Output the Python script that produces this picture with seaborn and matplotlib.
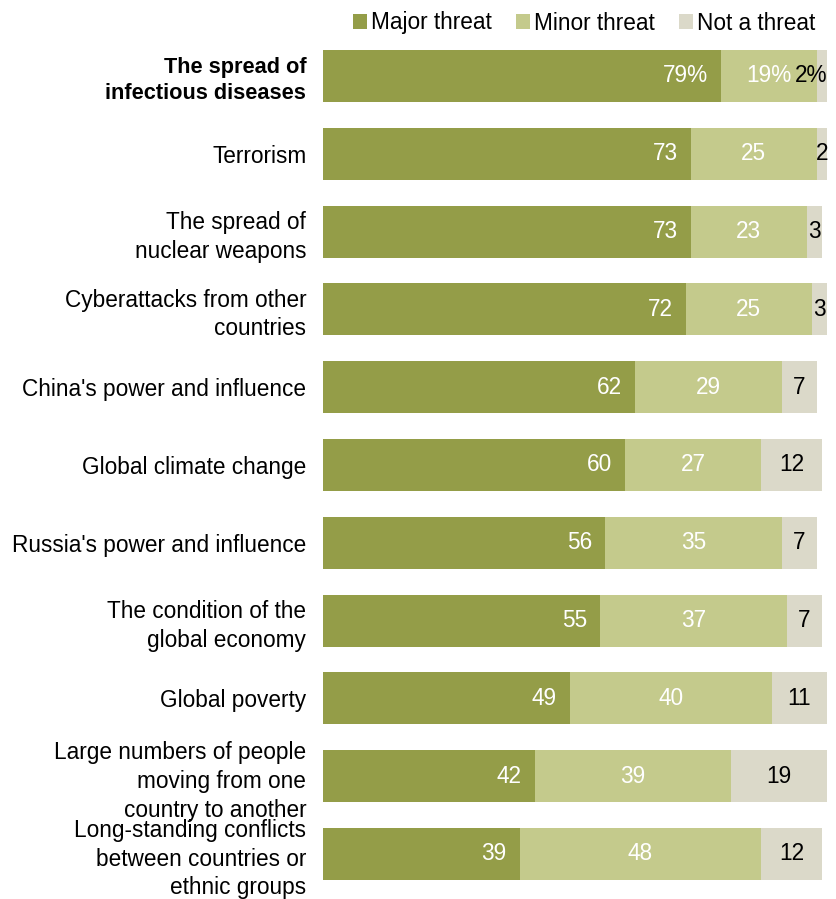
import matplotlib
matplotlib.use("Agg")
import matplotlib.pyplot as plt
from matplotlib.patches import Patch
import pandas as pd
import seaborn as sns

# data
categories = [
    "The spread of\ninfectious diseases",
    "Terrorism",
    "The spread of\nnuclear weapons",
    "Cyberattacks from other\ncountries",
    "China's power and influence",
    "Global climate change",
    "Russia's power and influence",
    "The condition of the\nglobal economy",
    "Global poverty",
    "Large numbers of people\nmoving from one\ncountry to another",
    "Long-standing conflicts\nbetween countries or\nethnic groups",
]
major = [79, 73, 73, 72, 62, 60, 56, 55, 49, 42, 39]
minor = [19, 25, 23, 25, 29, 27, 35, 37, 40, 39, 48]
not_threat = [2, 2, 3, 3, 7, 12, 7, 7, 11, 19, 12]
series_names = ["Major threat", "Minor threat", "Not a threat"]

colors = ["#949d48", "#c4ca8c", "#dbd9c9"]

df = pd.DataFrame({"cat": categories, "major": major, "minor": minor, "not": not_threat})
df["c1"] = df["major"]
df["c2"] = df["major"] + df["minor"]
df["c3"] = df["c2"] + df["not"]

sns.set_style("white")
plt.rcParams["font.family"] = ["Liberation Sans", "DejaVu Sans"]
plt.rcParams["text.color"] = "black"
plt.rcParams["ytick.color"] = "black"
FS = 16.3

fig = plt.figure(figsize=(8.36, 8.99), dpi=100)
ax = fig.add_axes([323 / 836, 0, 504 / 836, 1])

# stacked bars: draw cumulative totals back to front
for col, c in zip(["c3", "c2", "c1"], colors[::-1]):
    sns.barplot(data=df, x=col, y="cat", color=c, width=0.67, linewidth=0,
                saturation=1, ax=ax, orient="h")

ax.set_xlim(0, 100)
ax.set_ylim(10 + 45 / 77.8, -76 / 77.8)
ax.set_xlabel("")
ax.set_ylabel("")
ax.set_xticks([])
ax.tick_params(axis="y", length=0, pad=12, labelsize=FS)
for s in ax.spines.values():
    s.set_visible(False)
for lab in ax.get_yticklabels():
    lab.set_linespacing(1.31)
ax.get_yticklabels()[0].set_fontweight("bold")
ax.get_yticklabels()[0].set_fontsize(FS - 0.6)

# value labels
for i, row in df.iterrows():
    suffix = "%" if i == 0 else ""
    ax.text(row["c1"] - 2.6, i, f"{row['major']}{suffix}", ha="right", va="center",
            color="white", fontsize=FS)
    ax.text((row["c1"] + row["c2"]) / 2, i, f"{row['minor']}{suffix}", ha="center",
            va="center", color="white", fontsize=FS)
    if i == 0:
        ax.text(row["c3"], i, f"{row['not']}{suffix}", ha="right", va="center",
                color="black", fontsize=FS)
    else:
        ax.text((row["c2"] + row["c3"]) / 2, i, f"{row['not']}", ha="center",
                va="center", color="black", fontsize=FS)

handles = [Patch(facecolor=c, edgecolor="none") for c in colors]
fig.legend(handles, series_names, loc="center right", bbox_to_anchor=(0.975, 1 - 23 / 899),
           ncol=3, frameon=False, fontsize=FS, handlelength=0.62, handleheight=0.62,
           handletextpad=0.15, columnspacing=1.1, borderaxespad=0, borderpad=0)

fig.savefig("out.png", dpi=100)
